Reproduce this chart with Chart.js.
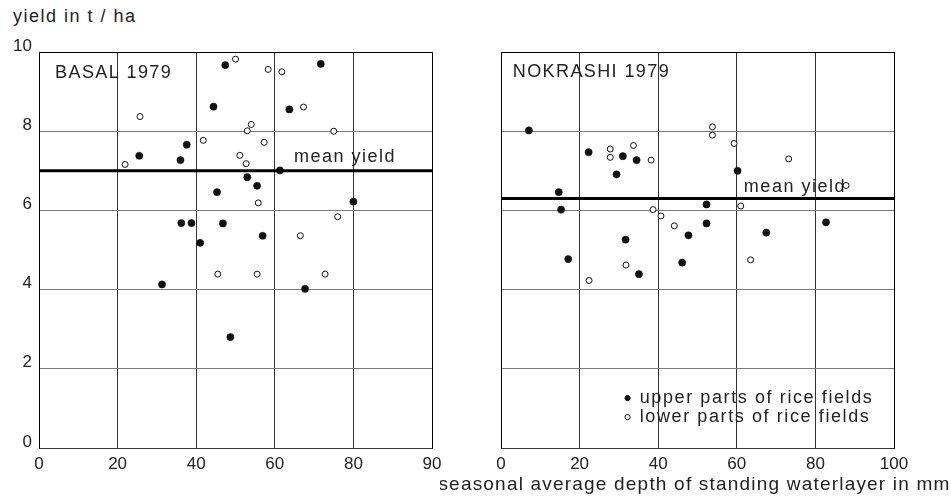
<!DOCTYPE html>
<html>
<head>
<meta charset="utf-8">
<script src="https://cdn.jsdelivr.net/npm/chart.js@4/dist/chart.umd.min.js"></script>
<style>
  html, body { margin: 0; padding: 0; background: #fff; }
  #wrap { position: relative; width: 951px; height: 499px; }
  .box { position: absolute; top: 0; height: 499px; }
  #ylab { position: absolute; left: 13px; top: 6px; font: 18px "Liberation Sans", Arial, sans-serif; letter-spacing: 1.5px; color: #222; }
</style>
</head>
<body>
<div id="wrap">
  <div id="ylab">yield in t / ha</div>
  <div class="box" style="left:0;width:470px"><canvas id="basal"></canvas></div>
  <div class="box" style="left:440px;width:511px"><canvas id="nokrashi"></canvas></div>
</div>
<script>
// [depth mm, yield t/ha]
const basalUpper = [
  [47.4, 9.67], [71.7, 9.70], [44.4, 8.62], [63.7, 8.55], [37.6, 7.66],
  [25.5, 7.38], [36.0, 7.27], [61.3, 7.01], [53.0, 6.84], [55.5, 6.62],
  [45.3, 6.46], [80.0, 6.22], [36.2, 5.68], [38.8, 5.68], [46.8, 5.67],
  [56.9, 5.36], [41.0, 5.18], [31.3, 4.13], [67.7, 4.02], [48.7, 2.80]
];
const basalLower = [
  [50.0, 9.82], [58.3, 9.56], [61.8, 9.50], [67.3, 8.61], [25.7, 8.37],
  [54.0, 8.17], [53.0, 8.01], [75.0, 8.00], [41.8, 7.77], [57.3, 7.72],
  [51.1, 7.39], [52.7, 7.18], [21.9, 7.16], [55.8, 6.19], [76.0, 5.84],
  [66.5, 5.36], [45.5, 4.39], [55.5, 4.39], [72.8, 4.39]
];
const nokrashiUpper = [
  [7.1, 8.02], [22.3, 7.47], [31.0, 7.37], [34.5, 7.27], [29.4, 6.91],
  [60.2, 7.00], [14.7, 6.46], [15.3, 6.02], [52.3, 6.15], [52.3, 5.67],
  [82.7, 5.70], [47.7, 5.37], [67.5, 5.44], [31.7, 5.26], [17.1, 4.77],
  [46.1, 4.68], [35.1, 4.39]
];
const nokrashiLower = [
  [53.8, 8.11], [53.8, 7.90], [59.3, 7.69], [73.2, 7.30], [27.8, 7.55],
  [27.8, 7.34], [33.7, 7.64], [38.2, 7.27], [87.8, 6.63], [61.0, 6.11],
  [38.7, 6.02], [40.7, 5.86], [44.1, 5.61], [63.5, 4.75], [31.8, 4.62],
  [22.4, 4.23]
];
const meanYield = { basal: 7.0, nokrashi: 6.3 };
const basalXTicks = ['0', '20', '40', '60', '80', '90'];
const nokrashiXTicks = ['0', '20', '40', '60', '80', '100'];
const yTicks = ['0', '2', '4', '6', '8', '10'];

const FONT = '"Liberation Sans", Arial, sans-serif';
const toPts = arr => arr.map(p => ({ x: p[0], y: p[1] }));

// panel name, mean yield caption and legend
const notes = {
  id: 'notes',
  afterDraw(chart, args, o) {
    const { ctx, scales: { x, y } } = chart;
    ctx.save();
    ctx.letterSpacing = '1.4px';
    ctx.fillStyle = '#222';
    ctx.textBaseline = 'middle';
    ctx.textAlign = 'left';
    ctx.font = '18px ' + FONT;
    ctx.fillText(o.name, x.getPixelForValue(o.nameAt[0]), y.getPixelForValue(o.nameAt[1]));
    ctx.letterSpacing = '1.5px';
    ctx.fillText('mean yield', x.getPixelForValue(o.meanAt[0]), y.getPixelForValue(o.meanAt[1]));
    if (o.legend) {
      ctx.letterSpacing = '1.6px';
      const rows = [['upper parts of rice fields', true, 1.26], ['lower parts of rice fields', false, 0.78]];
      rows.forEach(([t, filled, yv]) => {
        const py = y.getPixelForValue(yv);
        ctx.beginPath();
        ctx.arc(x.getPixelForValue(32.2), py, 2.6, 0, Math.PI * 2);
        ctx.lineWidth = 1;
        ctx.strokeStyle = '#111';
        ctx.fillStyle = filled ? '#111' : '#fff';
        ctx.fill();
        ctx.stroke();
        ctx.fillStyle = '#222';
        ctx.fillText(t, x.getPixelForValue(35.3), py);
      });
    }
    ctx.restore();
  }
};

// x axis caption under the right panel
const caption = {
  id: 'caption',
  afterDraw(chart, args, o) {
    if (!o.text) return;
    const { ctx, chartArea } = chart;
    ctx.save();
    ctx.letterSpacing = '1.2px';
    ctx.font = '19px ' + FONT;
    ctx.fillStyle = '#222';
    ctx.textAlign = 'center';
    ctx.textBaseline = 'middle';
    ctx.fillText(o.text, (chartArea.left + chartArea.right) / 2 - 3, 485);
    ctx.restore();
  }
};

function makeChart(id, upper, lower, mean, xLabels, opts) {
  return new Chart(document.getElementById(id), {
    type: 'scatter',
    data: {
      datasets: [
        {
          type: 'line',
          data: [{ x: 0, y: mean }, { x: 100, y: mean }],
          borderColor: '#000',
          borderWidth: 3,
          pointRadius: 0
        },
        {
          data: toPts(lower),
          pointRadius: 3,
          pointBackgroundColor: '#fff',
          pointBorderColor: '#111',
          pointBorderWidth: 1
        },
        {
          data: toPts(upper),
          pointRadius: 3.6,
          pointBackgroundColor: '#111',
          pointBorderColor: '#111',
          pointBorderWidth: 0.5
        }
      ]
    },
    options: {
      responsive: false,
      animation: false,
      layout: { padding: { top: 52, right: opts.padRight, bottom: 0, left: 0 } },
      plugins: {
        legend: { display: false },
        tooltip: { enabled: false },
        notes: opts.notes,
        caption: { text: opts.xTitle }
      },
      scales: {
        x: {
          type: 'linear',
          min: 0, max: 100,
          afterBuildTicks: s => { s.ticks = [0, 20, 40, 60, 80, 100].map(v => ({ value: v })); },
          afterFit: s => { s.height = 51; },
          ticks: {
            color: '#222',
            padding: 6,
            maxRotation: 0,
            font: { family: FONT, size: 17 },
            callback: (v, i) => xLabels[i]
          },
          grid: {
            drawTicks: false,
            color: c => c.tick && c.tick.value === 100 ? '#000' : '#333',
            lineWidth: 1
          },
          border: { color: '#333', width: 1 }
        },
        y: {
          min: 0, max: 10,
          afterBuildTicks: s => { s.ticks = [0, 2, 4, 6, 8, 10].map(v => ({ value: v })); },
          afterFit: s => { s.width = opts.yWidth; },
          ticks: {
            display: opts.yLabels,
            color: '#222',
            padding: 7,
            labelOffset: -6,
            font: { family: FONT, size: 17 },
            callback: (v, i) => yTicks[i]
          },
          grid: {
            drawTicks: false,
            color: c => c.tick && c.tick.value === 10 ? '#000' : '#7a7a7a',
            lineWidth: 1
          },
          border: { color: '#000', width: 1 }
        }
      }
    },
    plugins: [notes, caption]
  });
}

function sizeCanvas(id, w) {
  const c = document.getElementById(id);
  c.width = w; c.height = 499;
  c.style.width = w + 'px'; c.style.height = '499px';
}
sizeCanvas('basal', 470);
sizeCanvas('nokrashi', 511);

makeChart('basal', basalUpper, basalLower, meanYield.basal, basalXTicks, {
  padRight: 38, yWidth: 39, yLabels: true,
  notes: { name: 'BASAL 1979', nameAt: [4.1, 9.46], meanAt: [64.9, 7.34], legend: false }
});
makeChart('nokrashi', nokrashiUpper, nokrashiLower, meanYield.nokrashi, nokrashiXTicks, {
  padRight: 57, yWidth: 61, yLabels: false,
  xTitle: 'seasonal average depth of standing waterlayer in mm',
  notes: { name: 'NOKRASHI 1979', nameAt: [3.0, 9.49], meanAt: [61.8, 6.6], legend: true }
});
</script>
</body>
</html>
